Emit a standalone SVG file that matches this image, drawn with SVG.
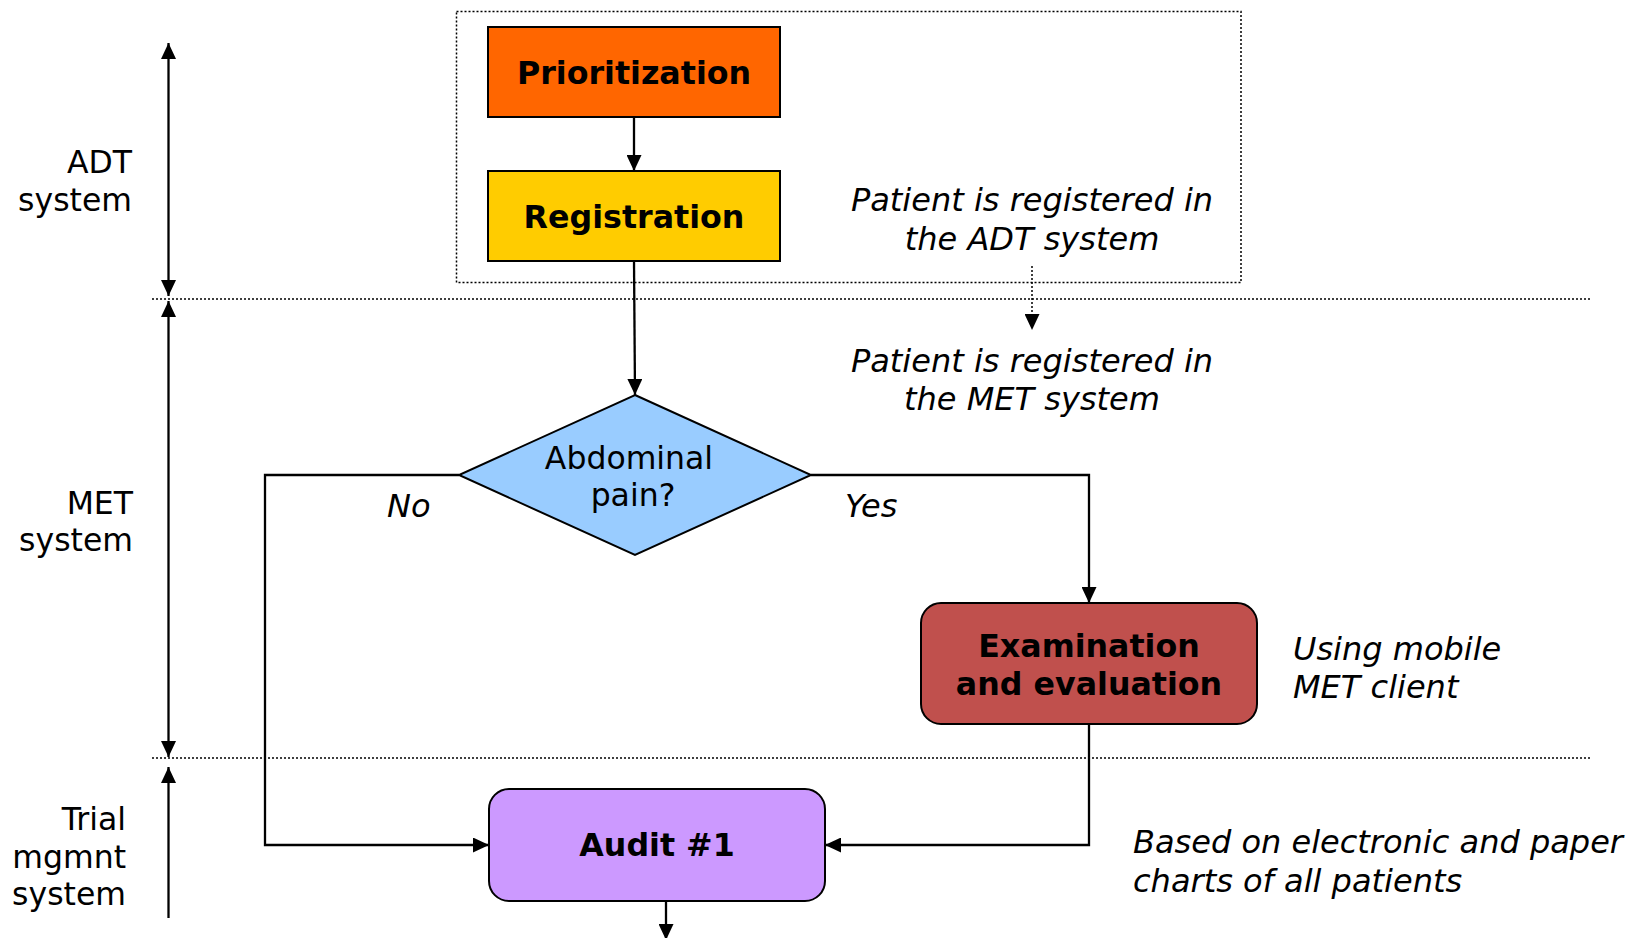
<svg xmlns="http://www.w3.org/2000/svg" width="1632" height="938" viewBox="0 0 1632 938">
<defs>
<marker id="ah" markerWidth="16" markerHeight="15" refX="16" refY="7.5" orient="auto-start-reverse" markerUnits="userSpaceOnUse"><path d="M0,0 L16,7.5 L0,15 z" fill="#000"/></marker>
<style>
text{font-family:"DejaVu Sans","Verdana",sans-serif;fill:#000;}
.lbl{font-size:31.5px;}
.b{font-size:31.7px;font-weight:bold;text-anchor:middle;}
.it{font-size:32px;font-style:italic;}
.side{font-size:31.5px;text-anchor:end;}
.box{stroke:#000;stroke-width:2;}
.con{fill:none;stroke:#000;stroke-width:2.3;}
.dot{fill:none;stroke:#000;stroke-width:1.5;stroke-dasharray:2,2;}
</style>
</defs>
<rect width="1632" height="938" fill="#fff"/>

<g id="lanes">
<rect class="dot" x="456.5" y="11.5" width="784.5" height="271"/>
<line class="dot" x1="152" y1="299" x2="1590" y2="299"/>
<line class="dot" x1="152" y1="758" x2="1590" y2="758"/>
<line class="con" x1="168.5" y1="43" x2="168.5" y2="296" marker-start="url(#ah)" marker-end="url(#ah)"/>
<line class="con" x1="168.5" y1="301" x2="168.5" y2="757" marker-start="url(#ah)" marker-end="url(#ah)"/>
<line class="con" x1="168.5" y1="767" x2="168.5" y2="918" marker-start="url(#ah)"/>
<text class="side" x="132" y="173">ADT</text>
<text class="side" x="132" y="211">system</text>
<text class="side" x="133" y="514">MET</text>
<text class="side" x="133" y="551">system</text>
<text class="side" x="126" y="830">Trial</text>
<text class="side" x="126" y="868">mgmnt</text>
<text class="side" x="126" y="905">system</text>
</g>

<g id="connectors">
<line class="con" x1="634" y1="117" x2="634" y2="171" marker-end="url(#ah)"/>
<line class="con" x1="634" y1="261" x2="635" y2="395" marker-end="url(#ah)"/>
<polyline class="con" points="459,475 265,475 265,845 489,845" marker-end="url(#ah)"/>
<polyline class="con" points="811,475 1089,475 1089,603" marker-end="url(#ah)"/>
<polyline class="con" points="1089,724 1089,845 825,845" marker-end="url(#ah)"/>
<line class="con" x1="666" y1="901" x2="666" y2="940" marker-end="url(#ah)"/>
<line class="dot" x1="1032" y1="266" x2="1032" y2="330" marker-end="url(#ah)"/>
<text class="it" x="387" y="517">No</text>
<text class="it" x="845" y="517">Yes</text>
</g>

<g id="prioritization">
<rect class="box" x="488" y="27" width="292" height="90" fill="#FF6600"/>
<text class="b" x="634" y="84">Prioritization</text>
</g>

<g id="registration">
<rect class="box" x="488" y="171" width="292" height="90" fill="#FFCC00"/>
<text class="b" x="634" y="228">Registration</text>
</g>

<g id="note-adt">
<text class="it" text-anchor="middle" x="1032" y="211">Patient is registered in</text>
<text class="it" text-anchor="middle" x="1032" y="250">the ADT system</text>
</g>

<g id="note-met">
<text class="it" text-anchor="middle" x="1032" y="372">Patient is registered in</text>
<text class="it" text-anchor="middle" x="1032" y="410">the MET system</text>
</g>

<g id="decision">
<polygon class="box" points="635,395 811,475 635,555 459,475" fill="#99CCFF"/>
<text class="lbl" text-anchor="middle" x="629" y="469">Abdominal</text>
<text class="lbl" text-anchor="middle" x="633" y="506">pain?</text>
</g>

<g id="examination">
<rect class="box" x="921" y="603" width="336" height="121" rx="20" fill="#C0504D"/>
<text class="b" x="1089" y="657">Examination</text>
<text class="b" x="1089" y="695">and evaluation</text>
</g>

<g id="note-mobile">
<text class="it" x="1293" y="660">Using mobile</text>
<text class="it" x="1293" y="698">MET client</text>
</g>

<g id="audit">
<rect class="box" x="489" y="789" width="336" height="112" rx="20" fill="#CC99FF"/>
<text class="b" x="657" y="856">Audit #1</text>
</g>

<g id="note-audit">
<text class="it" x="1133" y="853">Based on electronic and paper</text>
<text class="it" x="1133" y="892">charts of all patients</text>
</g>
</svg>
